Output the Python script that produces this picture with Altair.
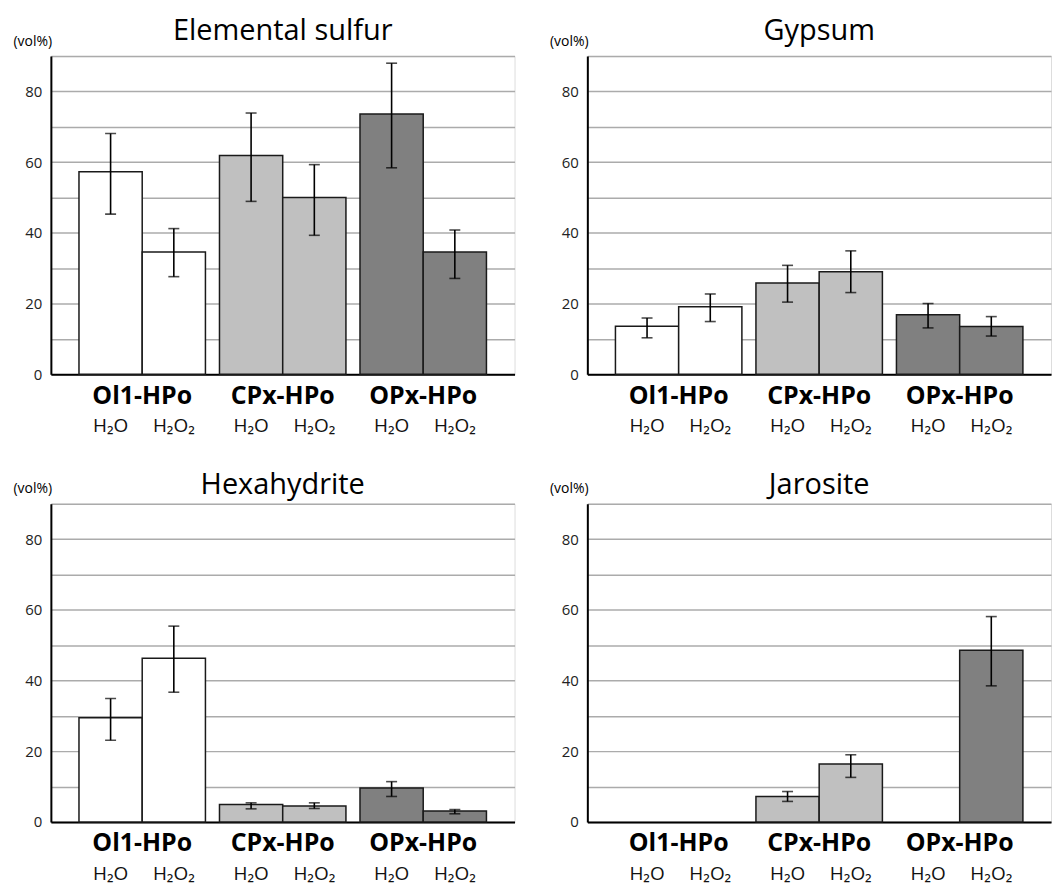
import altair as alt
import pandas as pd

groups = ["Ol1-HPo", "CPx-HPo", "OPx-HPo"]
treatments = ["H2O", "H2O2"]
treatment_labels = ["H₂O", "H₂O₂"]
group_colors = ["#ffffff", "#c0c0c0", "#808080"]

# order of values: Ol1 H2O, Ol1 H2O2, CPx H2O, CPx H2O2, OPx H2O, OPx H2O2
sulfur_mean = [57.3, 34.6, 61.9, 50.0, 73.6, 34.6]
sulfur_low = [45.3, 27.6, 48.9, 39.3, 58.4, 27.1]
sulfur_high = [68.1, 41.2, 73.9, 59.3, 88.0, 40.8]

gypsum_mean = [13.6, 19.1, 25.8, 29.0, 16.8, 13.5]
gypsum_low = [10.3, 14.9, 20.4, 23.1, 13.1, 10.8]
gypsum_high = [15.9, 22.7, 30.8, 34.9, 20.0, 16.3]

hexa_mean = [29.5, 46.3, 4.9, 4.5, 9.6, 3.1]
hexa_low = [23.1, 36.7, 3.7, 3.8, 7.2, 2.3]
hexa_high = [34.9, 55.4, 5.4, 5.4, 11.4, 3.5]

jaro_mean = [None, None, 7.2, 16.4, None, 48.6]
jaro_low = [None, None, 5.8, 12.6, None, 38.5]
jaro_high = [None, None, 8.6, 19.0, None, 58.1]

FONT = "Open Sans"
W, H = 465, 319

Y_AXIS = alt.Axis(
    values=list(range(0, 91, 10)),
    labelExpr="datum.value % 20 == 0 && datum.value < 90 ? datum.label : ''",
    title="(vol%)", titleAngle=0, titleAlign="left", titleBaseline="bottom",
    titleX=-38, titleY=-8, titleFontSize=14, titleFontWeight="normal",
    titleFont=FONT, titleColor="black",
    grid=True, gridColor="#ababab", gridWidth=1.5, ticks=False,
    domainColor="black", domainWidth=2, labelFontSize=15, labelFont=FONT,
    labelColor="#222", labelPadding=9,
)


def ydef(field):
    return alt.Y(field, type="quantitative",
                 scale=alt.Scale(domain=[0, 90], nice=False), axis=Y_AXIS)


def panel(name, mean, low, high, toff):
    rows = []
    i = 0
    for g in groups:
        for t, tl in zip(treatments, treatment_labels):
            rows.append({"group": g, "treatment": t, "tlabel": tl,
                         "mean": mean[i], "low": low[i], "high": high[i]})
            i += 1
    df = pd.DataFrame(rows)
    base = alt.Chart(df)
    x = alt.X("group:N", scale=alt.Scale(domain=groups, paddingInner=0.1, paddingOuter=0.2),
              axis=alt.Axis(title=None, labelAngle=0, labelFont=FONT, labelFontWeight="bold",
                            labelFontSize=25, labelColor="black", labelPadding=9, ticks=False,
                            domainColor="black", domainWidth=2, grid=False))
    xo = alt.XOffset("treatment:N", scale=alt.Scale(domain=treatments, paddingInner=0, paddingOuter=0))
    bars = base.mark_bar(stroke="#1a1a1a", strokeWidth=1.5).encode(
        x=x, xOffset=xo, y=ydef("mean"),
        color=alt.Color("group:N", scale=alt.Scale(domain=groups, range=group_colors), legend=None))
    rules = base.mark_rule(color="black", strokeWidth=1.6).encode(
        x=x, xOffset=xo, y=ydef("low"), y2="high:Q")
    cap_hi = base.mark_tick(color="black", thickness=1.6, size=11).encode(
        x=x, xOffset=xo, y=ydef("high"))
    cap_lo = base.mark_tick(color="black", thickness=1.6, size=11).encode(
        x=x, xOffset=xo, y=ydef("low"))
    labels = base.mark_text(font=FONT, fontSize=19, color="#111", baseline="middle").encode(
        x=x, xOffset=xo, y=alt.value(H + 52), text="tlabel:N")
    return alt.layer(bars, rules, cap_hi, cap_lo, labels).properties(
        width=W, height=H,
        title=alt.TitleParams(name, fontSize=29, font=FONT, fontWeight="normal",
                              color="black", anchor="middle", offset=toff))


p1 = panel("Elemental sulfur", sulfur_mean, sulfur_low, sulfur_high, -12)
p2 = panel("Gypsum", gypsum_mean, gypsum_low, gypsum_high, -12)
p3 = panel("Hexahydrite", hexa_mean, hexa_low, hexa_high, -18)
p4 = panel("Jarosite", jaro_mean, jaro_low, jaro_high, -18)

chart = alt.vconcat(
    alt.hconcat(p1, p2, spacing=33),
    alt.hconcat(p3, p4, spacing=33),
    spacing=33,
).properties(
    padding={"left": 4, "top": 7, "right": 0, "bottom": 0}
).configure_view(stroke=None).configure(font=FONT)

chart.save("out.html", embed_options={"renderer": "svg", "actions": False})
